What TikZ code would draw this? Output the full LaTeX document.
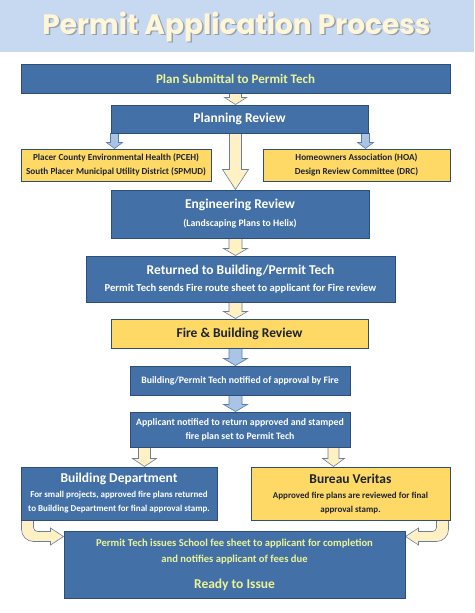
\documentclass[tikz,border=0pt]{standalone}
\usepackage{fontspec}
\setmainfont{Carlito}
\newfontfamily\titlefont{Poppins}
\usepackage{xcolor}
\usetikzlibrary{calc, backgrounds}
\definecolor{bandblue}{HTML}{C6D9F1}
\definecolor{titlecream}{HTML}{FFF6D8}
\definecolor{boxblue}{HTML}{4371A7}
\definecolor{boxline}{HTML}{2C4E78}
\definecolor{boxyellow}{HTML}{FFD966}
\definecolor{darktext}{HTML}{1C2430}
\definecolor{limetext}{HTML}{ECF497}
\definecolor{arrowcream}{HTML}{FFF1C4}
\definecolor{arrowline}{HTML}{6A7F9C}
\definecolor{arrowblue}{HTML}{A9C4E4}
\definecolor{arrowblueline}{HTML}{5A7EAB}
\newcommand{\bigtext}{\fontsize{13.5}{16}\selectfont}
\newcommand{\fsize}[2]{\fontsize{#1}{#2}\selectfont}
% block arrow pointing down: [style]{from}{to}{shaft half width}{head half width}{head length}
\newcommand{\blockarrow}[6][cream arrow]{%
	\path[#1] let \p1=(#2), \p2=(#3) in
	(\x1-#4,\y1) -- (\x1-#4,\y2+#6) -- (\x1-#5,\y2+#6) -- (\x1,\y2)
	-- (\x1+#5,\y2+#6) -- (\x1+#4,\y2+#6) -- (\x1+#4,\y1) -- cycle;}
\tikzset{%
	every box/.style={
		draw=boxline,
		line width=1pt,
		align=center,
		inner sep=0pt,
		font=\bfseries
	},
	blue box/.style={every box, fill=boxblue, text=white},
	yellow box/.style={every box, fill=boxyellow, text=darktext},
	cream arrow/.style={fill=arrowcream, draw=arrowline, line width=0.6pt},
	blue arrow/.style={fill=arrowblue, draw=arrowblueline, line width=0.6pt},
}

\begin{document}
\begin{tikzpicture}[x=1pt, y=-1pt]
	\useasboundingbox (0,0) rectangle (474,613);
	\fill[bandblue] (0,0) rectangle (474,52);
	% title with shadow
	\node[font=\titlefont\bfseries\fsize{28}{32}, text=black!60, opacity=0.5] (title shadow) at (238,28.5) {Permit Application Process};
	\node[font=\titlefont\bfseries\fsize{28}{32}, text=titlecream] (title) at (236.5,27) {Permit Application Process};
	% boxes
	\node[blue box, minimum width=429pt, minimum height=29pt, text=limetext, font=\bfseries\fsize{13}{15}] (plan) at (235.5,78.5) {Plan Submittal to Permit Tech};
	\node[blue box, minimum width=257pt, minimum height=28pt, font=\bfseries\bigtext] (planning) at (239.5,119) {Planning Review};
	\node[yellow box, minimum width=190pt, minimum height=32pt, font=\bfseries\fsize{9.2}{13.5}] (pceh) at (116,165) {Placer County Environmental Health (PCEH)\\South Placer Municipal Utility District (SPMUD)};
	\node[yellow box, minimum width=187pt, minimum height=32pt, font=\bfseries\fsize{9.2}{13.5}] (hoa) at (356.5,165) {Homeowners Association (HOA)\\Design Review Committee (DRC)};
	\node[blue box, minimum width=258pt, minimum height=48pt, font=\bfseries\fsize{9.8}{14}] (eng) at (240,214) {{\bigtext Engineering Review}\\[4pt](Landscaping Plans to Helix)};
	\node[blue box, minimum width=309pt, minimum height=46pt, font=\bfseries\fsize{10.6}{14}] (returned) at (240.5,279) {{\bigtext Returned to Building/Permit Tech}\\[3pt]Permit Tech sends Fire route sheet to applicant for Fire review};
	\node[yellow box, minimum width=257pt, minimum height=29pt, font=\bfseries\bigtext] (fire) at (239.5,333.5) {Fire \& Building Review};
	\node[blue box, minimum width=220pt, minimum height=29pt, font=\bfseries\fsize{9.8}{14}] (notified) at (240,380.5) {Building/Permit Tech notified of approval by Fire};
	\node[blue box, minimum width=220pt, minimum height=35pt, font=\bfseries\fsize{9.8}{14}] (applicant) at (240,429.5) {Applicant notified to return approved and stamped\\fire plan set to Permit Tech};
	\node[blue box, minimum width=196pt, minimum height=53pt, font=\bfseries\fsize{9}{14}] (bdept) at (119,493.5) {{\bigtext Building Department}\\[1pt]For small projects, approved fire plans returned\\to Building Department for final approval stamp.};
	\node[yellow box, minimum width=199pt, minimum height=53pt, font=\bfseries\fsize{9}{14}] (bureau) at (350.5,493.5) {{\bigtext Bureau Veritas}\\[1pt]Approved fire plans are reviewed for final\\approval stamp.};
	\node[blue box, minimum width=341pt, minimum height=67pt, text=limetext, font=\bfseries\fsize{10.6}{16}] (issue) at (234.5,564.5) {Permit Tech issues School fee sheet to applicant for completion\\and notifies applicant of fees due\\[10pt]{\bigtext Ready to Issue}};
	% arrows
	\begin{scope}[on background layer]
		\blockarrow{plan.south}{planning.north}{6pt}{11pt}{7pt}
		\blockarrow[blue arrow]{[xshift=4pt]planning.south west}{pceh.north}{4pt}{8pt}{6pt}
		\blockarrow[blue arrow]{[xshift=-3pt]planning.south east}{hoa.north}{4pt}{8pt}{6pt}
		\blockarrow{planning.south -| plan.south}{eng.north}{6pt}{13pt}{20pt}
		\blockarrow{eng.south -| plan.south}{returned.north}{6.5pt}{12pt}{7pt}
		\blockarrow{returned.south -| plan.south}{fire.north}{6.5pt}{12pt}{7pt}
		\blockarrow[blue arrow]{fire.south -| plan.south}{notified.north}{6.5pt}{12pt}{7pt}
		\blockarrow[blue arrow]{notified.south -| plan.south}{applicant.north}{6.5pt}{12pt}{7pt}
		\blockarrow{[xshift=15pt]applicant.south west}{bdept.north}{6pt}{12pt}{8pt}
		\blockarrow{[xshift=-17pt]applicant.south east}{bureau.north}{5.5pt}{11pt}{8pt}
		% bent arrows into the last box
		\path[cream arrow] let \p1=(bdept.south west), \p2=(issue.north west) in
			(\x1+1pt,\y1) [rounded corners=12pt] -- (\x1+1pt,\y2-11pt) [sharp corners]
			-- (\x2-13pt,\y2-11pt) -- (\x2-13pt,\y2-14.5pt) -- (\x2,\y2-6pt)
			-- (\x2-13pt,\y2+2.5pt) -- (\x2-13pt,\y2-1pt) [rounded corners=4pt]
			-- (\x1+13pt,\y2-1pt) [sharp corners] -- (\x1+13pt,\y1) -- cycle;
		\path[cream arrow] let \p1=(bureau.south east), \p2=(issue.north east) in
			(\x1-2pt,\y1) [rounded corners=12pt] -- (\x1-2pt,\y2-11pt) [sharp corners]
			-- (\x2+13pt,\y2-11pt) -- (\x2+13pt,\y2-14.5pt) -- (\x2,\y2-6pt)
			-- (\x2+13pt,\y2+2.5pt) -- (\x2+13pt,\y2-1pt) [rounded corners=4pt]
			-- (\x1-14pt,\y2-1pt) [sharp corners] -- (\x1-14pt,\y1) -- cycle;
	\end{scope}
\end{tikzpicture}
\end{document}
